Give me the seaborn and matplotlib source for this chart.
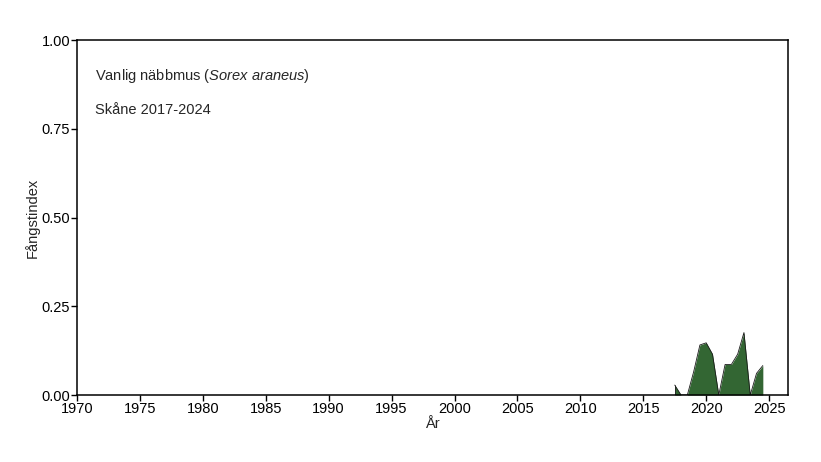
import matplotlib
matplotlib.use("Agg")
import matplotlib.pyplot as plt
import seaborn as sns
import pandas as pd

# half-year sampling, autumn 2017 to autumn 2024
years = [2017.5, 2018.0, 2018.5, 2019.0, 2019.5, 2020.0, 2020.5, 2021.0,
         2021.5, 2022.0, 2022.5, 2023.0, 2023.5, 2024.0, 2024.5]
index = [0.028, 0.0, 0.0, 0.065, 0.141, 0.147, 0.115, 0.0,
         0.086, 0.086, 0.115, 0.176, 0.0, 0.061, 0.083]

xticks = list(range(1970, 2026, 5))
yticks = [0.0, 0.25, 0.5, 0.75, 1.0]

sns.set_style("ticks")
plt.rcParams["font.family"] = ["Liberation Sans", "DejaVu Sans"]
plt.rcParams["mathtext.fontset"] = "custom"
plt.rcParams["mathtext.rm"] = "Liberation Sans"
plt.rcParams["mathtext.it"] = "Liberation Sans:italic"

df = pd.DataFrame({"year": years, "index": index})

fig = plt.figure(figsize=(8.21, 4.62), dpi=100)
ax = fig.add_axes([0.0938, 0.145, 0.866, 0.7684])

ax.fill_between(df["year"], 0, df["index"], color="#336633", linewidth=0)
sns.lineplot(data=df, x="year", y="index", ax=ax, color="#1a1a1a", linewidth=0.6)
ax.vlines(df["year"].iloc[0], 0, df["index"].iloc[0], color="#1a1a1a", linewidth=0.6)

ax.set_xlim(1970, 2026.5)
ax.set_ylim(0, 1)
ax.set_xticks(xticks)
ax.set_yticks(yticks)
ax.set_yticklabels([f"{v:.2f}" for v in yticks])
ax.tick_params(labelsize=10.5, length=4, width=1, pad=1, colors="black")
ax.set_xlabel("År", fontsize=10.5, labelpad=1)
ax.set_ylabel("Fångstindex", fontsize=10.5, labelpad=1)
for s in ax.spines.values():
    s.set_color("black")
    s.set_linewidth(1.1)

ax.text(0.025, 0.90, r"Vanlig näbbmus ($\it{Sorex\ araneus}$)", transform=ax.transAxes,
        fontsize=10.5, va="center")
ax.text(0.025, 0.803, "Skåne 2017-2024", transform=ax.transAxes,
        fontsize=10.5, va="center")

fig.savefig("out.png", dpi=100)
